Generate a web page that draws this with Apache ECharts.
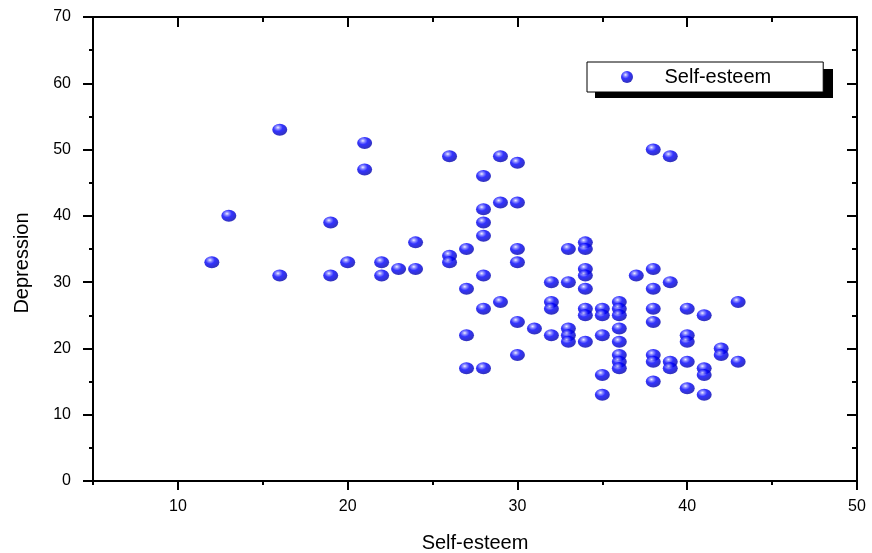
<!DOCTYPE html>
<html>
<head>
<meta charset="utf-8">
<title>Self-esteem vs Depression</title>
<script src="https://cdn.jsdelivr.net/npm/echarts@6/dist/echarts.min.js"></script>
<style>
  html, body { margin: 0; padding: 0; background: #fff; }
  #main { width: 872px; height: 553px; }
</style>
</head>
<body>
<div id="main"></div>
<script>
// values
const selfEsteem = [
  12, 13, 16, 16, 19, 19, 20, 21, 21, 22, 22, 23, 24, 24,
  26, 26, 26, 27, 27, 27, 27,
  28, 28, 28, 28, 28, 28, 28,
  29, 29, 29,
  30, 30, 30, 30, 30, 30,
  31,
  32, 32, 32, 32,
  33, 33, 33, 33, 33,
  34, 34, 34, 34, 34, 34, 34, 34,
  35, 35, 35, 35, 35,
  36, 36, 36, 36, 36, 36, 36, 36,
  37,
  38, 38, 38, 38, 38, 38, 38, 38,
  39, 39, 39, 39,
  40, 40, 40, 40, 40,
  41, 41, 41, 41,
  42, 42,
  43, 43
];
const depression = [
  33, 40, 53, 31, 39, 31, 33, 51, 47, 33, 31, 32, 32, 36,
  49, 34, 33, 35, 29, 22, 17,
  46, 41, 39, 37, 31, 26, 17,
  49, 42, 27,
  48, 42, 35, 33, 24, 19,
  23,
  30, 27, 26, 22,
  35, 30, 23, 22, 21,
  36, 35, 32, 31, 29, 26, 25, 21,
  26, 25, 22, 16, 13,
  27, 26, 25, 23, 21, 19, 18, 17,
  31,
  50, 32, 29, 26, 24, 19, 18, 15,
  49, 30, 18, 17,
  26, 22, 21, 18, 14,
  25, 17, 16, 13,
  20, 19,
  27, 18
];
const xMajorTicks = [10, 20, 30, 40, 50];
const xMinorTicks = [5, 15, 25, 35, 45];

const points = selfEsteem.map((x, i) => [x, depression[i]]);

const font = 'Liberation Sans, Arial, sans-serif';
const lineStyle = { color: '#000', width: 2 };

// 3D-ish ball look
const ball = {
  type: 'radial', x: 0.38, y: 0.32, r: 0.7,
  colorStops: [
    { offset: 0, color: '#ececff' },
    { offset: 0.2, color: '#7070ff' },
    { offset: 0.45, color: '#0000ff' },
    { offset: 1, color: '#0000a8' }
  ]
};

const xBase = { type: 'value', min: 5, max: 50, splitLine: { show: false } };
const yBase = { type: 'value', min: 0, max: 70, interval: 10, splitLine: { show: false } };

var myChart = echarts.init(document.getElementById('main'));
var option = {
  backgroundColor: '#fff',
  animation: false,
  grid: { left: 93, right: 15, top: 17, bottom: 72, containLabel: false, outerBoundsMode: 'none' },
  legend: {
    left: 587,
    top: 62,
    padding: [5, 52, 5, 34],
    itemWidth: 15,
    itemHeight: 12,
    backgroundColor: '#fff',
    borderColor: '#000',
    borderWidth: 1,
    textStyle: { fontFamily: font, fontSize: 20, color: '#000', padding: [0, 0, 0, 25] },
    data: ['Self-esteem']
  },
  xAxis: [
    Object.assign({}, xBase, {
      position: 'bottom',
      name: 'Self-esteem',
      nameLocation: 'middle',
      nameGap: 52,
      nameTextStyle: { fontFamily: font, fontSize: 20, color: '#000' },
      axisLine: { onZero: false, lineStyle: lineStyle },
      axisTick: { customValues: xMajorTicks, length: 9, lineStyle: lineStyle },
      axisLabel: { customValues: xMajorTicks, margin: 18, fontFamily: font, fontSize: 16, color: '#000' }
    }),
    Object.assign({}, xBase, {
      position: 'bottom',
      axisLine: { show: false, onZero: false },
      axisTick: { customValues: xMinorTicks, length: 4, lineStyle: lineStyle },
      axisLabel: { show: false }
    }),
    Object.assign({}, xBase, {
      position: 'top',
      axisLine: { onZero: false, lineStyle: lineStyle },
      axisTick: { customValues: xMajorTicks, inside: true, length: 10, lineStyle: lineStyle },
      axisLabel: { show: false }
    }),
    Object.assign({}, xBase, {
      position: 'top',
      axisLine: { show: false, onZero: false },
      axisTick: { customValues: xMinorTicks, inside: true, length: 5, lineStyle: lineStyle },
      axisLabel: { show: false }
    })
  ],
  yAxis: [
    Object.assign({}, yBase, {
      position: 'left',
      axisLine: { onZero: false, lineStyle: lineStyle },
      axisTick: { length: 10, lineStyle: lineStyle },
      minorTick: { show: true, splitNumber: 2, length: 4, lineStyle: lineStyle },
      axisLabel: { margin: 22, fontFamily: font, fontSize: 16, color: '#000' }
    }),
    Object.assign({}, yBase, {
      position: 'right',
      axisLine: { onZero: false, lineStyle: lineStyle },
      axisTick: { inside: true, length: 10, lineStyle: lineStyle },
      minorTick: { show: true, splitNumber: 2, length: 5, lineStyle: lineStyle },
      axisLabel: { show: false }
    })
  ],
  graphic: [
    {
      // legend drop shadow
      type: 'rect',
      z: 1,
      shape: { x: 595, y: 69, width: 238, height: 29 },
      style: { fill: '#000' }
    },
    {
      type: 'text',
      x: 22,
      y: 263,
      rotation: Math.PI / 2,
      style: {
        text: 'Depression',
        fontFamily: font,
        fontSize: 20,
        fill: '#000',
        align: 'center',
        verticalAlign: 'middle'
      }
    }
  ],
  series: [
    {
      name: 'Self-esteem',
      type: 'scatter',
      xAxisIndex: 0,
      yAxisIndex: 0,
      symbol: 'circle',
      symbolSize: [15, 12],
      itemStyle: { color: ball },
      data: points
    }
  ]
};
option && myChart.setOption(option);
</script>
</body>
</html>
